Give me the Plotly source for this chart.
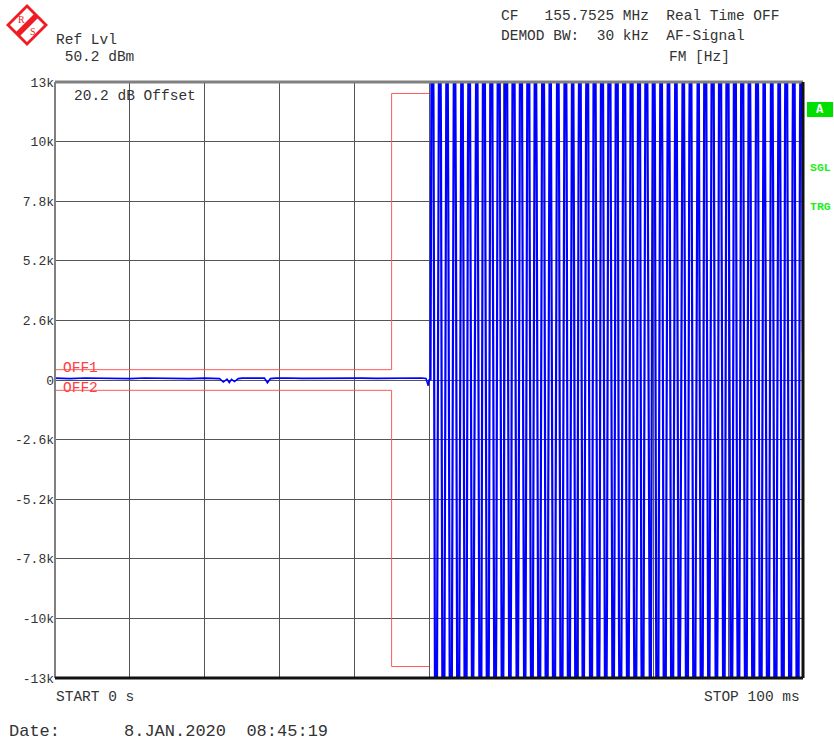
import plotly.graph_objects as go

# ---------------- data ----------------
y_tick_vals = [-13000, -10400, -7800, -5200, -2600, 0, 2600, 5200, 7800, 10400, 13000]
y_tick_text = ["-13k", "-10k", "-7.8k", "-5.2k", "-2.6k", "0", "2.6k", "5.2k", "7.8k", "10k", "13k"]

# quiet part of the FM trace (before the tone starts)
flat_t_ms = [0, 2, 4, 6, 8, 10, 12, 14, 16, 18, 20, 21, 22, 22.5, 23, 23.3, 23.6, 24, 24.5,
             25, 26, 27, 28, 28.4, 28.8, 29.5, 31, 33, 35, 37, 39, 41, 43, 45, 47, 49, 49.6, 49.9, 50.0]
flat_hz = [80, 60, 90, 70, 80, 60, 90, 70, 80, 60, 80, 70, 60, -90, 40, -110, 30, -70, 60,
           80, 70, 60, 80, -120, 60, 80, 90, 70, 80, 60, 90, 80, 70, 80, 60, 90, 70, -250, 0]

# tone part: sampled trace points (kHz), one point every 0.2 ms starting at 50.2 ms
osc_start_ms = 50.2
osc_step_ms = 0.2
osc_khz = [
    0, 21.0, 12.3, -13.8, -20.4,
    1.9, 21.5, 10.7, -15.3, -19.6,
    3.8, 21.8, 6.0, -16.6, -18.7,
    5.7, 22.0, 7.2, -17.8, -17.6,
    7.5, 22.0, 5.3, -18.9, -16.3,
    9.3, 21.8, 3.4, -19.8, -9.0,
    11.0, 21.4, 1.5, -20.5, -13.5,
    12.6, 20.9, -0.4, -21.1, -12.0,
    14.1, 20.3, -2.3, -21.6, -10.3,
    15.6, 19.4, -1.0, -21.9, -8.6,
    16.9, 18.5, -6.1, -22.0, -6.8,
    18.0, 17.3, -7.9, -21.9, -4.9,
    19.1, 16.1, -5.5, -21.7, -3.1,
    19.9, 14.7, -11.3, -21.3, -1.2,
    20.7, 9.0, -12.9, -20.8, 0.8,
    21.3, 11.7, -14.4, -20.1, 2.7,
    21.7, 3.0, -15.8, -19.2, 4.6,
    21.9, 8.2, -17.1, -18.2, 6.4,
    22.0, 10.5, -18.2, -17.1, 8.2,
    21.9, 4.6, -19.2, -15.8, 10.0,
    21.7, 2.7, -20.1, -8.0, 11.7,
    21.3, 0.8, -20.8, -12.9, 13.2,
    20.7, -1.2, -21.3, -11.3, 14.7,
    19.9, 2.0, -21.7, -9.6, 16.1,
    19.1, -4.9, -21.9, -7.9, 17.3,
    18.0, -11.0, -22.0, -6.1, 18.5,
    16.9, -8.6, -21.9, -4.2, 19.4,
    15.6, -10.3, -21.6, -6.0, 20.3,
    14.1, -12.0, -21.1, -0.4, 20.9,
    12.6, -8.0, -20.5, 1.5, 21.4,
    11.0, -15.0, -19.8, 3.4, 21.8,
    9.3, -16.3, -18.9, 1.0, 22.0,
    7.5, -17.6, -17.8, 7.2, 22.0,
    5.7, -18.7, -10.5, 8.9, 21.8,
    3.8, -19.6, -15.3, 10.7, 21.5,
    1.9, -20.4, -13.8, 7.0, 21.0,
    0.0, -21.0, -12.3, 13.8, 20.4,
    -1.9, -21.5, -4.0, 15.3, 19.6,
    -3.8, -21.8, -8.9, 16.6, 18.7,
    -5.7, -22.0, -7.2, 17.8, 17.6,
    -7.5, -22.0, -9.5, 18.9, 16.3,
    -9.3, -21.8, -3.4, 19.8, 15.0,
    -11.0, -21.4, -1.5, 20.5, 9.5,
    -12.6, -20.9, 0.4, 21.1, 12.0,
    -14.1, -20.3, 2.3, 21.6, 4.5,
    -15.6, -19.4, 4.2, 21.9, 8.6,
    -16.9, -18.5, 6.1, 22.0, 6.8,
    -18.0, -17.3, 11.5, 21.9, 4.9,
    -19.1, -16.1, 9.6, 21.7, 3.1,
    -19.9, -14.7, 11.3, 21.3, 1.2,
]

# limit lines
off1_t_ms = [0, 45, 45, 50]
off1_hz = [450, 450, 12500, 12500]
off2_t_ms = [0, 45, 45, 50]
off2_hz = [-450, -450, -12500, -12500]

# ---------------- build ----------------
osc_t_ms = [osc_start_ms + i * osc_step_ms for i in range(len(osc_khz))]
osc_hz = [v * 1000 for v in osc_khz]

L, R, T, B = 55, 803, 82, 678
W, H = 834, 742
PW, PH = R - L, B - T


def px(x):
    return (x - L) / PW


def py(y):
    return (B - y) / PH


MONO = "Liberation Mono, Courier New, monospace"
TXT = "#333333"

fig = go.Figure()
fig.add_trace(go.Scatter(x=off1_t_ms, y=off1_hz, mode="lines",
                         line=dict(color="#ff5a5a", width=1), hoverinfo="skip"))
fig.add_trace(go.Scatter(x=off2_t_ms, y=off2_hz, mode="lines",
                         line=dict(color="#ff5a5a", width=1), hoverinfo="skip"))
fig.add_trace(go.Scatter(x=flat_t_ms + osc_t_ms[:1], y=flat_hz + osc_hz[:1], mode="lines",
                         line=dict(color="#0000ff", width=1.6), hoverinfo="skip"))
fig.add_trace(go.Scatter(x=osc_t_ms, y=osc_hz, mode="lines",
                         line=dict(color="#0000ff", width=2.2), hoverinfo="skip"))

fig.update_layout(
    width=W, height=H,
    margin=dict(l=L, r=W - R, t=T, b=H - B),
    paper_bgcolor="white", plot_bgcolor="white",
    showlegend=False,
    xaxis=dict(range=[0, 100], tick0=0, dtick=10, showgrid=True, gridcolor="#555555",
               gridwidth=1, showticklabels=False, ticks="", zeroline=False,
               showline=False, fixedrange=True),
    yaxis=dict(range=[-13000, 13000], tickvals=y_tick_vals, ticktext=y_tick_text,
               showgrid=True, gridcolor="#555555", gridwidth=1, zeroline=False,
               ticks="", showline=False,
               tickfont=dict(family=MONO, size=13, color=TXT), fixedrange=True),
)

shapes = []
# frame
shapes.append(dict(type="line", xref="paper", yref="paper", x0=0, x1=1, y0=1, y1=1,
                   line=dict(color="#808080", width=3)))
shapes.append(dict(type="line", xref="paper", yref="paper", x0=0, x1=0, y0=0, y1=1,
                   line=dict(color="#808080", width=2)))
shapes.append(dict(type="line", xref="paper", yref="paper", x0=0, x1=1, y0=0, y1=0,
                   line=dict(color="#111111", width=3)))
shapes.append(dict(type="line", xref="paper", yref="paper", x0=1, x1=1, y0=0, y1=1,
                   line=dict(color="#111111", width=3)))


def poly(points):
    p = "M " + " L ".join(f"{px(a):.5f},{py(b):.5f}" for a, b in points) + " Z"
    return p


# R&S logo
shapes.append(dict(type="path", xref="paper", yref="paper",
                   path=poly([(27, 4), (48, 25), (27, 46), (6, 25)]),
                   fillcolor="#ee1c24", line=dict(width=0)))
shapes.append(dict(type="path", xref="paper", yref="paper",
                   path=poly([(27, 8), (44, 25), (27, 42), (10, 25)]),
                   fillcolor="white", line=dict(width=0)))
shapes.append(dict(type="path", xref="paper", yref="paper",
                   path=poly([(15.0, 33.0), (35.0, 13.0), (39.0, 17.0), (19.0, 37.0)]),
                   fillcolor="#ee1c24", line=dict(width=0)))
# green "A" box
shapes.append(dict(type="rect", xref="paper", yref="paper",
                   x0=px(807), x1=px(833), y0=py(117), y1=py(102),
                   fillcolor="#00e000", line=dict(width=0)))
fig.update_layout(shapes=shapes)

ann = []


def text(x, y, s, size=14.5, color=TXT, xanchor="left", family=MONO, bold=False):
    ann.append(dict(xref="paper", yref="paper", x=px(x), y=py(y), text=(f"<b>{s}</b>" if bold else s),
                    showarrow=False, xanchor=xanchor, yanchor="middle",
                    font=dict(family=family, size=size, color=color)))


text(21, 20, "R", size=10, color="#ee1c24", family="Liberation Serif", xanchor="center")
text(33, 31, "S", size=10, color="#ee1c24", family="Liberation Serif", xanchor="center")
text(54, 40, "Ref Lvl")
text(54, 57, " 50.2 dBm")
text(499, 16, "CF   155.7525 MHz  Real Time OFF")
text(499, 36, "DEMOD BW:  30 kHz  AF-Signal")
text(667, 57, "FM [Hz]")
text(72, 96, "20.2 dB Offset")
text(61, 368, "OFF1", color="#ff4040")
text(61, 388, "OFF2", color="#ff4040")
text(820, 110, "A", size=12, color="white", xanchor="center", bold=True)
text(820, 167, "SGL", size=11.5, color="#22ee22", xanchor="center", bold=True)
text(820, 206, "TRG", size=11.5, color="#22ee22", xanchor="center", bold=True)
text(54, 697, "START 0 s")
text(802, 697, "STOP 100 ms", xanchor="right")
text(7, 731, "Date:", size=17)
text(122, 731, "8.JAN.2020  08:45:19", size=17)
fig.update_layout(annotations=ann)

fig.write_html(
    "out.html",
    config={"displayModeBar": False, "staticPlot": True},
    post_script="document.body.style.margin='0';document.body.style.overflow='hidden';",
)
